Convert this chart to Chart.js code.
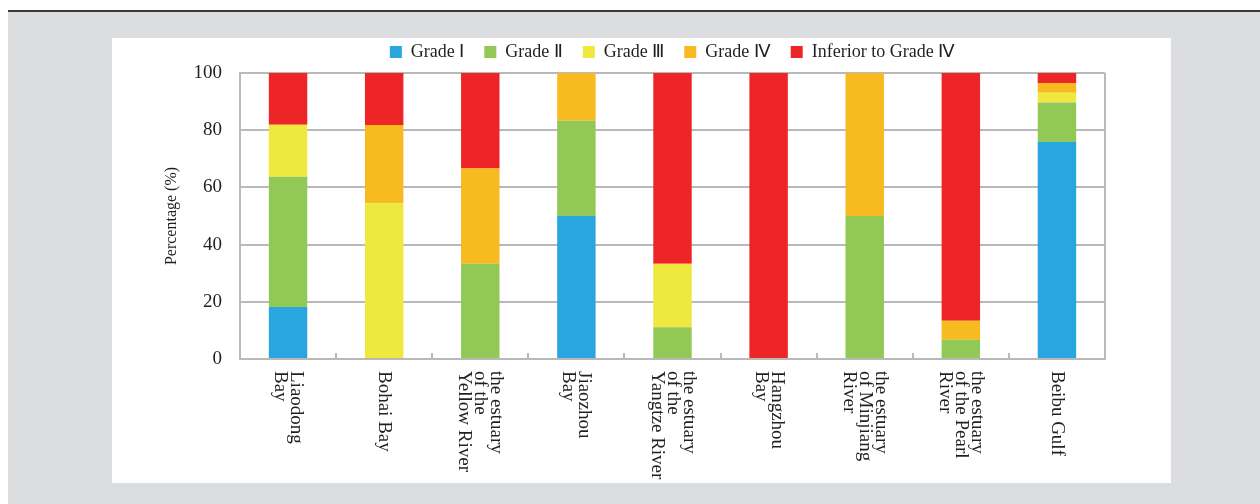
<!DOCTYPE html>
<html>
<head>
<meta charset="utf-8">
<script src="https://cdn.jsdelivr.net/npm/chart.js@4.4.0/dist/chart.umd.min.js"></script>
<style>
  html, body { margin: 0; padding: 0; background: #fff; }
  #wrap { width: 1260px; height: 504px; position: relative; }
</style>
</head>
<body>
<div id="wrap"><canvas id="myChart" width="1260" height="504"></canvas></div>
<script>
// categories (multi-line labels, drawn rotated clockwise under the axis)
var bays = [
    ['Liaodong', 'Bay'],
    ['Bohai Bay'],
    ['the estuary', 'of the', 'Yellow River'],
    ['Jiaozhou', 'Bay'],
    ['the estuary', 'of the', 'Yangtze River'],
    ['Hangzhou', 'Bay'],
    ['the estuary', 'of Minjiang', 'River'],
    ['the estuary', 'of the Pearl', 'River'],
    ['Beibu Gulf']
];
var seriesNames = ['Grade \u2160', 'Grade \u2161', 'Grade \u2162', 'Grade \u2163', 'Inferior to Grade \u2163'];
// percentages per grade
var grade1 = [18.2, 0, 0, 50, 0, 0, 0, 0, 75.9];
var grade2 = [45.5, 0, 33.3, 33.3, 11.1, 0, 50, 6.7, 13.8];
var grade3 = [18.2, 54.5, 0, 0, 22.2, 0, 0, 0, 3.4];
var grade4 = [0, 27.3, 33.3, 16.7, 0, 0, 50, 6.7, 3.4];
var inferior = [18.1, 18.2, 33.4, 0, 66.7, 100, 0, 86.6, 3.5];
var yTicks = [0, 20, 40, 60, 80, 100];

var colors = ['#29a6df', '#92c855', '#eee83f', '#f7ba20', '#ee2527'];
var textColor = '#231f20';
var serif = '"Liberation Serif", "Times New Roman", "Noto Serif", serif';

var allSeries = [grade1, grade2, grade3, grade4, inferior];
var datasets = [];
for (var i = 0; i < allSeries.length; i++) {
    datasets.push({
        label: seriesNames[i],
        data: allSeries[i],
        backgroundColor: colors[i],
        borderWidth: 0,
        categoryPercentage: 1,
        barPercentage: 0.4
    });
}

// page background: white strip, dark rule, gray field, white panel
var backdrop = {
    id: 'backdrop',
    beforeDraw: function (chart) {
        var ctx = chart.ctx;
        ctx.save();
        ctx.fillStyle = '#ffffff';
        ctx.fillRect(0, 0, 1260, 504);
        ctx.fillStyle = '#dcdddf';
        ctx.fillRect(8, 12, 1252, 492);
        ctx.fillStyle = '#3a3a3a';
        ctx.fillRect(8, 10, 1252, 2);
        ctx.fillStyle = '#ffffff';
        ctx.fillRect(112, 38, 1059, 445);
        ctx.restore();
    }
};

// category labels rotated clockwise, inner tick marks and right border
var xLabels = {
    id: 'xLabels',
    afterDraw: function (chart) {
        var ctx = chart.ctx;
        var x = chart.scales.x;
        var area = chart.chartArea;
        ctx.save();
        ctx.strokeStyle = '#b9b9b9';
        ctx.lineWidth = 2;
        ctx.beginPath();
        ctx.moveTo(area.right, area.top);
        ctx.lineTo(area.right, area.bottom);
        var step = (area.right - area.left) / bays.length;
        for (var k = 1; k < bays.length; k++) {
            var tx = Math.round(area.left + step * k);
            ctx.moveTo(tx, area.bottom);
            ctx.lineTo(tx, area.bottom - 6);
        }
        ctx.stroke();

        ctx.fillStyle = textColor;
        ctx.font = '19px ' + serif;
        ctx.textAlign = 'left';
        ctx.textBaseline = 'middle';
        var lineH = 16;
        for (var j = 0; j < bays.length; j++) {
            var cx = x.getPixelForValue(j);
            var lines = bays[j];
            ctx.save();
            ctx.translate(cx, area.bottom + 12);
            ctx.rotate(Math.PI / 2);
            for (var n = 0; n < lines.length; n++) {
                ctx.fillText(lines[n], 0, (n - (lines.length - 1) / 2) * lineH);
            }
            ctx.restore();
        }
        ctx.restore();
    }
};

// give the legend some extra room underneath
var legendGap = {
    id: 'legendGap',
    beforeLayout: function (chart) {
        var lg = chart.legend;
        if (lg && !lg._gapPatched) {
            var fit = lg.fit.bind(lg);
            lg.fit = function () {
                fit();
                this.height += 2;
            };
            lg._gapPatched = true;
        }
    }
};

const ctx = document.getElementById('myChart').getContext('2d');
const myChart = new Chart(ctx, {
    type: 'bar',
    data: {
        labels: bays.map(function (b) { return b.join(' '); }),
        datasets: datasets
    },
    options: {
        responsive: false,
        animation: false,
        layout: {
            padding: { left: 112, right: 155, top: 23, bottom: 145 }
        },
        plugins: {
            legend: {
                position: 'top',
                fullSize: false,
                labels: {
                    boxWidth: 12,
                    boxHeight: 12,
                    padding: 20,
                    color: textColor,
                    font: { family: serif, size: 18 }
                }
            },
            tooltip: { enabled: false }
        },
        scales: {
            x: {
                stacked: true,
                grid: { display: false, drawTicks: false },
                border: { color: '#b9b9b9', width: 2 },
                ticks: { display: false }
            },
            y: {
                stacked: true,
                min: 0,
                max: 100,
                afterBuildTicks: function (scale) {
                    scale.ticks = yTicks.map(function (v) { return { value: v }; });
                },
                afterFit: function (scale) {
                    scale.width = 128;
                },
                grid: { color: '#b9b9b9', lineWidth: 2, drawTicks: false },
                border: { color: '#b9b9b9', width: 2 },
                ticks: {
                    padding: 18,
                    color: textColor,
                    font: { family: serif, size: 19 }
                },
                title: {
                    display: true,
                    text: 'Percentage (%)',
                    color: textColor,
                    font: { family: serif, size: 16 },
                    padding: { top: 50, bottom: 0 }
                }
            }
        }
    },
    plugins: [backdrop, xLabels, legendGap]
});
</script>
</body>
</html>
